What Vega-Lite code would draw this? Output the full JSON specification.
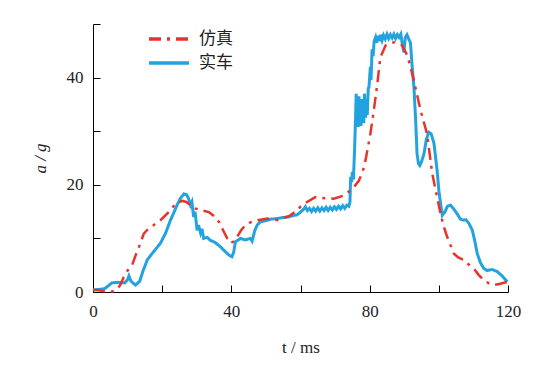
{
  "$schema": "https://vega.github.io/schema/vega-lite/v6.json",
  "autosize": "none",
  "padding": {"left": 93, "top": 24, "right": 41, "bottom": 73},
  "width": 415,
  "height": 268,
  "background": "white",
  "datasets": {
    "real": [
      {"t":0,"a":0.4},{"t":2,"a":0.5},{"t":3.3,"a":0.6},{"t":4.5,"a":1.2},{"t":5.5,"a":1.7},{"t":7,"a":1.8},{"t":9.2,"a":1.7},{"t":10,"a":2.3},{"t":10.4,"a":3.0},{"t":11,"a":2.0},{"t":12.3,"a":1.3},{"t":13.5,"a":2.0},{"t":14.5,"a":4.0},{"t":15.7,"a":6.0},{"t":17.5,"a":7.5},{"t":19.5,"a":9.1},{"t":21,"a":11.0},{"t":22.4,"a":13.4},{"t":23.5,"a":15.0},{"t":24.3,"a":16.2},{"t":25.3,"a":17.5},{"t":26.3,"a":18.3},{"t":27.0,"a":18.2},{"t":27.6,"a":17.5},{"t":28.2,"a":16.2},{"t":28.6,"a":16.8},{"t":29.1,"a":14.0},{"t":29.5,"a":15.0},{"t":30.1,"a":11.5},{"t":30.5,"a":12.5},{"t":31.1,"a":11.0},{"t":31.5,"a":11.8},{"t":32.0,"a":10.0},{"t":33,"a":10.2},{"t":34,"a":9.6},{"t":34.9,"a":9.4},{"t":35.8,"a":9.0},{"t":36.9,"a":8.4},{"t":37.8,"a":7.8},{"t":38.8,"a":7.2},{"t":39.5,"a":6.8},{"t":40.2,"a":6.6},{"t":40.7,"a":7.5},{"t":41.2,"a":9.4},{"t":42.7,"a":10.0},{"t":44,"a":9.7},{"t":45.5,"a":10.0},{"t":46.0,"a":9.5},{"t":46.8,"a":11.5},{"t":47.5,"a":12.5},{"t":48.4,"a":13.1},{"t":50,"a":13.3},{"t":51.5,"a":13.6},{"t":53.3,"a":13.7},{"t":55,"a":13.9},{"t":56.5,"a":14.0},{"t":58.1,"a":14.3},{"t":59,"a":14.4},{"t":60,"a":14.9},{"t":61.0,"a":15.5},{"t":61.4,"a":15.9},{"t":62.0,"a":15.2},{"t":62.6,"a":15.6},{"t":63.2,"a":15.0},{"t":63.8,"a":15.6},{"t":64.4,"a":15.1},{"t":65.0,"a":15.7},{"t":65.6,"a":15.1},{"t":66.2,"a":15.7},{"t":66.8,"a":15.2},{"t":67.4,"a":15.8},{"t":68.0,"a":15.2},{"t":68.6,"a":15.8},{"t":69.2,"a":15.3},{"t":69.8,"a":15.9},{"t":70.4,"a":15.4},{"t":71.0,"a":16.0},{"t":71.6,"a":15.5},{"t":72.2,"a":16.1},{"t":72.8,"a":15.6},{"t":73.4,"a":16.2},{"t":74.0,"a":16.0},{"t":74.3,"a":16.8},{"t":74.5,"a":21.5},{"t":74.8,"a":20.5},{"t":75.0,"a":22.4},{"t":75.3,"a":21.0},{"t":75.6,"a":26.0},{"t":75.9,"a":32.0},{"t":76.1,"a":37.0},{"t":76.3,"a":31.0},{"t":76.5,"a":35.5},{"t":76.7,"a":30.8},{"t":76.9,"a":36.5},{"t":77.1,"a":31.5},{"t":77.3,"a":35.0},{"t":77.5,"a":31.0},{"t":77.7,"a":36.0},{"t":77.9,"a":32.0},{"t":78.1,"a":35.5},{"t":78.3,"a":31.5},{"t":78.5,"a":37.0},{"t":78.8,"a":32.5},{"t":79.0,"a":36.0},{"t":79.3,"a":33.0},{"t":79.6,"a":38.0},{"t":79.8,"a":38.2},{"t":80.2,"a":42.0},{"t":80.4,"a":39.5},{"t":80.7,"a":45.3},{"t":81.0,"a":44.0},{"t":81.3,"a":46.8},{"t":81.7,"a":47.5},{"t":82,"a":46.5},{"t":82.4,"a":47.8},{"t":82.8,"a":46.8},{"t":83.2,"a":48.0},{"t":83.6,"a":47.0},{"t":84,"a":47.9},{"t":84.5,"a":47.2},{"t":85,"a":48.1},{"t":85.5,"a":47.3},{"t":86,"a":48.0},{"t":86.5,"a":47.4},{"t":87,"a":48.1},{"t":87.5,"a":47.3},{"t":88,"a":48.0},{"t":88.5,"a":47.5},{"t":89,"a":48.1},{"t":89.5,"a":46.0},{"t":89.9,"a":44.7},{"t":90.3,"a":47.5},{"t":90.8,"a":48.0},{"t":91.3,"a":47.2},{"t":91.8,"a":46.5},{"t":92.3,"a":42.0},{"t":92.8,"a":38.2},{"t":93.3,"a":32.0},{"t":93.7,"a":25.8},{"t":94.1,"a":24.0},{"t":94.5,"a":23.6},{"t":95.0,"a":24.3},{"t":95.7,"a":25.8},{"t":96.4,"a":28.5},{"t":97.1,"a":29.8},{"t":97.8,"a":29.5},{"t":98.6,"a":27.7},{"t":99.5,"a":22.7},{"t":100.0,"a":19.0},{"t":100.5,"a":16.5},{"t":101,"a":14.3},{"t":101.8,"a":15.0},{"t":102.5,"a":16.0},{"t":103.4,"a":16.2},{"t":104.3,"a":15.5},{"t":105.3,"a":14.6},{"t":106.2,"a":13.6},{"t":107.2,"a":13.4},{"t":107.8,"a":13.5},{"t":108.7,"a":12.8},{"t":109.7,"a":11.5},{"t":110.4,"a":9.5},{"t":111.1,"a":7.2},{"t":112,"a":5.5},{"t":113,"a":4.4},{"t":114,"a":4.0},{"t":115.4,"a":4.2},{"t":116.9,"a":3.8},{"t":118.3,"a":3.0},{"t":119.8,"a":1.9}
    ],
    "sim": [
      {"t":0,"a":0.4},{"t":2,"a":0.3},{"t":3.5,"a":0.1},{"t":5,"a":0.0},{"t":6.5,"a":0.3},{"t":7.8,"a":1.2},{"t":8.9,"a":2.8},{"t":10,"a":4.0},{"t":11.3,"a":5.0},{"t":12.3,"a":6.8},{"t":13.3,"a":8.4},{"t":14.7,"a":10.9},{"t":16,"a":11.8},{"t":17.6,"a":12.5},{"t":19.5,"a":13.4},{"t":21.9,"a":14.9},{"t":23.9,"a":16.5},{"t":25.8,"a":17.0},{"t":27,"a":16.8},{"t":28.2,"a":16.2},{"t":29.5,"a":15.6},{"t":31.1,"a":15.3},{"t":33.5,"a":14.9},{"t":35.4,"a":14.0},{"t":36.5,"a":13.0},{"t":37.4,"a":11.8},{"t":38.8,"a":10.0},{"t":39.8,"a":9.1},{"t":40.8,"a":9.5},{"t":41.7,"a":10.3},{"t":42.8,"a":11.5},{"t":44.1,"a":12.5},{"t":45.5,"a":13.0},{"t":47.5,"a":13.4},{"t":50.4,"a":13.7},{"t":53.3,"a":13.4},{"t":55,"a":13.8},{"t":57.1,"a":14.3},{"t":58.5,"a":15.0},{"t":60,"a":15.9},{"t":61.9,"a":16.8},{"t":64.3,"a":17.7},{"t":67,"a":17.5},{"t":69.6,"a":17.4},{"t":72.5,"a":18.0},{"t":74.5,"a":19.0},{"t":75.5,"a":19.6},{"t":76.9,"a":20.8},{"t":78.0,"a":22.5},{"t":78.8,"a":24.6},{"t":79.5,"a":27.0},{"t":80.2,"a":29.5},{"t":81.2,"a":33.9},{"t":82.2,"a":38.8},{"t":83.1,"a":43.8},{"t":84.6,"a":46.0},{"t":87.0,"a":46.6},{"t":89.4,"a":46.0},{"t":90.9,"a":44.1},{"t":91.8,"a":42.0},{"t":92.8,"a":39.4},{"t":94.7,"a":33.9},{"t":96.6,"a":29.5},{"t":97.3,"a":26.0},{"t":98.1,"a":22.1},{"t":99.5,"a":17.7},{"t":100.5,"a":14.6},{"t":101.4,"a":12.3},{"t":102.4,"a":10.3},{"t":104.3,"a":7.2},{"t":105.5,"a":6.5},{"t":107.2,"a":6.0},{"t":108.5,"a":5.2},{"t":110.1,"a":4.4},{"t":111.5,"a":3.2},{"t":113,"a":2.2},{"t":114.5,"a":1.6},{"t":115.9,"a":1.3},{"t":117.5,"a":1.5},{"t":119.8,"a":1.9}
    ]
  },
  "config": {
    "font": "Liberation Serif",
    "view": {"stroke": null},
    "axis": {
      "grid": false,
      "domainColor": "#000000",
      "domainWidth": 1,
      "tickColor": "#000000",
      "tickWidth": 1,
      "tickSize": -7,
      "labelFontSize": 17,
      "labelColor": "#222222",
      "labelFlush": false,
      "titleFontSize": 17,
      "titleFontWeight": "normal",
      "titleColor": "#222222"
    },
    "legend": {
      "labelFont": "Noto Sans CJK SC",
      "labelFontSize": 17,
      "labelColor": "#222222"
    }
  },
  "layer": [
    {
      "data": {"name": "real"},
      "mark": {"type": "line", "strokeWidth": 3, "color": "#22A3DF"},
      "encoding": {
        "x": {"field": "t", "type": "quantitative"},
        "y": {"field": "a", "type": "quantitative"},
        "color": {"datum": "实车"},
        "strokeDash": {"datum": "实车"}
      }
    },
    {
      "data": {"name": "sim"},
      "mark": {"type": "line", "strokeWidth": 2.5},
      "encoding": {
        "x": {
          "field": "t", "type": "quantitative",
          "scale": {"domain": [0, 120], "nice": false},
          "axis": {
            "values": [0, 20, 40, 60, 80, 100, 120],
            "labelExpr": "datum.value % 40 === 0 ? datum.label : ''",
            "labelFont": "Liberation Serif",
            "titleFont": "Liberation Serif",
            "labelFlush": false,
            "labelPadding": 18,
            "title": "t / ms",
            "titleY": 55,
            "titleBaseline": "middle"
          }
        },
        "y": {
          "field": "a", "type": "quantitative",
          "scale": {"domain": [0, 50], "nice": false},
          "axis": {
            "values": [0, 10, 20, 30, 40, 50],
            "labelExpr": "datum.value % 20 === 0 ? datum.label : ''",
            "labelFont": "Liberation Serif",
            "titleFont": "Liberation Serif",
            "labelFlush": false,
            "labelPadding": 17,
            "title": "a / g",
            "titleFontStyle": "italic",
            "titleX": -53,
            "titleY": 134,
            "titleBaseline": "middle"
          }
        },
        "color": {
          "datum": "仿真",
          "scale": {"domain": ["仿真", "实车"], "range": ["#E8332B", "#22A3DF"]},
          "legend": {
            "title": null,
            "orient": "none",
            "legendX": 54,
            "legendY": 4,
            "symbolType": "stroke",
            "symbolSize": 1600,
            "symbolStrokeWidth": 3.5,
            "clipHeight": 22,
            "rowPadding": 2,
            "labelOffset": 8
          }
        },
        "strokeDash": {
          "datum": "仿真",
          "scale": {"domain": ["仿真", "实车"], "range": [[12, 6, 3, 6], [1, 0]]},
          "legend": {
            "title": null,
            "orient": "none",
            "legendX": 54,
            "legendY": 4,
            "symbolType": "stroke",
            "symbolSize": 1600,
            "symbolStrokeWidth": 3.5,
            "clipHeight": 22,
            "rowPadding": 2,
            "labelOffset": 8
          }
        }
      }
    }
  ]
}
